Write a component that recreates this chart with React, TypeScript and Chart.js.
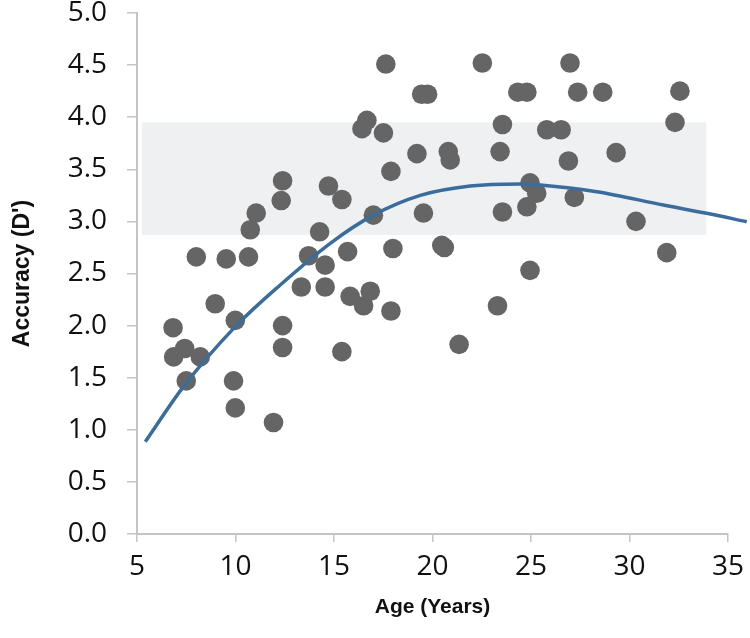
import React, { useEffect, useRef } from "react";
import { Chart, registerables } from "chart.js";

Chart.register(...registerables);

// Scatter data: age (years) and accuracy (D')
const AGES = [
  17.63, 19.45, 19.75, 16.67, 16.42, 17.51, 19.21, 20.8, 20.9, 17.89,
  12.39, 12.32, 14.72, 15.4, 11.05, 10.75, 17.0, 19.54, 14.27, 8.01,
  9.53, 10.66, 13.71, 15.69, 17.99, 20.47, 20.6, 14.55, 13.34, 14.55,
  15.82, 16.84, 16.5, 17.89, 8.97, 9.99, 6.83, 12.39, 12.39, 15.4,
  7.42, 6.86, 8.21, 7.5, 9.9, 9.99, 11.93, 22.53, 26.98, 24.33,
  24.79, 27.37, 28.64, 32.56, 32.31, 23.55, 25.8, 26.53, 23.43, 29.32,
  26.9, 24.95, 25.29, 24.79, 27.2, 23.55, 30.33, 31.89, 24.95, 23.3,
  21.35,
];
const ACCURACY = [
  4.51, 4.22, 4.22, 3.97, 3.89, 3.85, 3.65, 3.67, 3.59, 3.48,
  3.39, 3.2, 3.34, 3.21, 3.08, 2.92, 3.06, 3.08, 2.9, 2.66,
  2.64, 2.66, 2.67, 2.71, 2.74, 2.77, 2.75, 2.58, 2.37, 2.37,
  2.28, 2.33, 2.19, 2.14, 2.21, 2.05, 1.98, 2.0, 1.79, 1.75,
  1.78, 1.7, 1.7, 1.47, 1.47, 1.21, 1.07, 4.52, 4.52, 4.24,
  4.24, 4.24, 4.24, 4.25, 3.95, 3.93, 3.88, 3.88, 3.67, 3.66,
  3.58, 3.37, 3.27, 3.14, 3.23, 3.09, 3.0, 2.7, 2.53, 2.19,
  1.82,
];

// Fitted curve
const CURVE_X = [5.42, 7.36, 9.99, 12.27, 14.81, 17.0, 19.38, 21.91, 24.45, 25.47, 28.34, 31.72, 33.92, 35.95];
const CURVE_Y = [0.886, 1.414, 1.99, 2.39, 2.79, 3.06, 3.25, 3.34, 3.36, 3.35, 3.285, 3.157, 3.078, 2.997];

// Shaded band (adult range)
const BAND_X = [5.25, 33.9];
const BAND_Y = [2.87, 3.95];

// Axis ticks
const X_TICKS = [5, 10, 15, 20, 25, 30, 35];
const Y_TICKS = [0, 0.5, 1, 1.5, 2, 2.5, 3, 3.5, 4, 4.5, 5];

const bandPlugin = {
  id: "band",
  beforeDatasetsDraw(chart: any) {
    const { ctx, scales } = chart;
    const x0 = scales.x.getPixelForValue(BAND_X[0]);
    const x1 = scales.x.getPixelForValue(BAND_X[1]);
    const y0 = scales.y.getPixelForValue(BAND_Y[1]);
    const y1 = scales.y.getPixelForValue(BAND_Y[0]);
    ctx.save();
    ctx.fillStyle = "#eff0f2";
    ctx.fillRect(x0, y0, x1 - x0, y1 - y0);
    ctx.restore();
  },
};

export default function App() {
  const ref = useRef<HTMLCanvasElement | null>(null);

  useEffect(() => {
    document.body.style.margin = "0";
    const canvas = ref.current;
    if (!canvas) return;
    const points = AGES.map((a, i) => ({ x: a, y: ACCURACY[i] }));
    const curve = CURVE_X.map((a, i) => ({ x: a, y: CURVE_Y[i] }));
    const axisColor = "#c4c4c4";
    const tickFont = { family: "'Open Sans', sans-serif", size: 28 };
    const chart = new Chart(canvas, {
      type: "scatter",
      data: {
        datasets: [
          {
            label: "Fit",
            data: curve,
            showLine: true,
            borderColor: "#3a6c9c",
            borderWidth: 3.5,
            pointRadius: 0,
            cubicInterpolationMode: "monotone",
            clip: false,
          } as any,
          {
            label: "Participants",
            data: points,
            backgroundColor: "#656565",
            borderWidth: 0,
            pointRadius: 9.8,
            pointHoverRadius: 9.8,
          },
        ],
      },
      options: {
        responsive: false,
        animation: false,
        events: [],
        layout: { padding: { top: 13, right: 22, left: 0, bottom: 0 } },
        plugins: {
          legend: { display: false },
          tooltip: { enabled: false },
        },
        scales: {
          x: {
            type: "linear",
            min: 5,
            max: 35,
            afterBuildTicks: (scale: any) => {
              scale.ticks = X_TICKS.map((v) => ({ value: v }));
            },
            afterFit: (scale: any) => {
              scale.height = 104;
              scale.paddingLeft = 0;
              scale.paddingRight = 0;
            },
            grid: {
              display: true,
              drawOnChartArea: false,
              drawTicks: true,
              tickLength: 8,
              color: axisColor,
              lineWidth: 1.5,
            },
            border: { color: axisColor, width: 2 },
            ticks: {
              padding: 8,
              color: "#111",
              font: tickFont,
              maxRotation: 0,
            },
            title: {
              display: true,
              text: "Age (Years)",
              color: "#111",
              font: { family: "'Liberation Sans', Arial, sans-serif", size: 21, weight: "bold" },
              padding: { top: 0, bottom: 18 },
            },
          },
          y: {
            type: "linear",
            min: 0,
            max: 5,
            afterBuildTicks: (scale: any) => {
              scale.ticks = Y_TICKS.map((v) => ({ value: v }));
            },
            afterFit: (scale: any) => {
              scale.width = 137;
              scale.paddingTop = 0;
              scale.paddingBottom = 0;
            },
            grid: {
              display: true,
              drawOnChartArea: false,
              drawTicks: true,
              tickLength: 10,
              color: axisColor,
              lineWidth: 1.5,
            },
            border: { color: axisColor, width: 2 },
            ticks: {
              padding: 20,
              color: "#111",
              font: tickFont,
              callback: (v: any) => Number(v).toFixed(1),
            },
            title: {
              display: true,
              text: "Accuracy (D')",
              color: "#111",
              font: { family: "'Liberation Sans', Arial, sans-serif", size: 23, weight: "bold" },
              padding: { top: 9, bottom: 0 },
            },
          },
        },
      },
      plugins: [bandPlugin],
    });
    return () => chart.destroy();
  }, []);

  return (
    <div style={{ width: 750, height: 638, background: "#fff" }}>
      <canvas ref={ref} width={750} height={638} />
    </div>
  );
}
